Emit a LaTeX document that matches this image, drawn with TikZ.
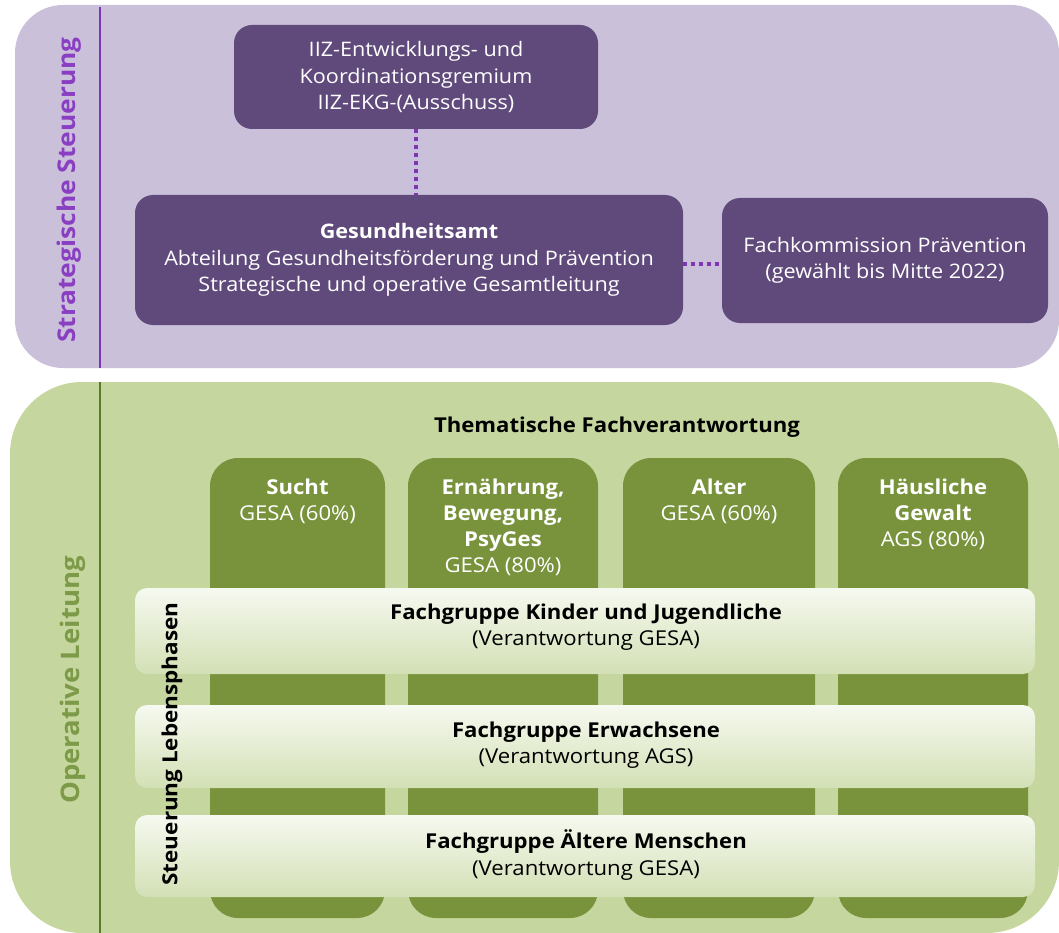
\documentclass[tikz,border=0pt]{standalone}
\usepackage{fontspec}
\setmainfont{Open Sans}[FakeStretch=1.08]
\definecolor{ppanel}{HTML}{CBC0DA}
\definecolor{pbox}{HTML}{5F4A7B}
\definecolor{pline}{HTML}{7B35B5}
\definecolor{plabel}{HTML}{8A3FC2}
\definecolor{gpanel}{HTML}{C5D69F}
\definecolor{gcol}{HTML}{78933B}
\definecolor{gline}{HTML}{5C7A2E}
\definecolor{glabel}{HTML}{7C9A48}
\definecolor{bartop}{HTML}{F6F9F0}
\definecolor{barbot}{HTML}{D3E0B5}
\tikzset{
  pboxst/.style={fill=pbox, rounded corners=18pt, text=white, align=center,
    font=\fontsize{20}{26.5}\selectfont, inner sep=0pt},
  colst/.style={fill=gcol, rounded corners=28pt},
  coltext/.style={text=white, align=center, anchor=north,
    font=\fontsize{20.5}{26}\selectfont, inner sep=0pt},
  barst/.style={top color=bartop, bottom color=barbot, rounded corners=12pt, draw=none},
  bartext/.style={align=center, font=\fontsize{20.5}{26.5}\selectfont, inner sep=0pt},
  dotline/.style={pline, line width=3.4pt, dash pattern=on 3.4pt off 4.6pt},
}
\begin{document}
\begin{tikzpicture}[x=1pt,y=-1pt]
\useasboundingbox (0,0) rectangle (1059,933);
% purple panel
\fill[ppanel, rounded corners=48pt] (15,5) rectangle (1059,368);
\draw[pline, line width=1.3pt] (100,7) coordinate (sl1) -- (100,368) coordinate (sl2);
\node[rotate=90, text=plabel, font=\fontsize{24.4}{28}\selectfont\bfseries, inner sep=0pt] (strat) at (69,190) {Strategische Steuerung};
% purple boxes
\node[pboxst, minimum width=364pt, minimum height=104pt] (iiz) at (416,77)
  {IIZ-Entwicklungs- und\\Koordinationsgremium\\IIZ-EKG-(Ausschuss)};
\node[pboxst, minimum width=548pt, minimum height=130pt] (ga) at (409,260)
  {\textbf{Gesundheitsamt}\\Abteilung Gesundheitsförderung und Prävention\\Strategische und operative Gesamtleitung};
\node[pboxst, minimum width=326pt, minimum height=125pt] (fk) at (885,260.5)
  {Fachkommission Prävention\\(gewählt bis Mitte 2022)};
\draw[dotline] (iiz.south) -- (iiz.south |- ga.north);
\draw[dotline] (ga.east |- 0,264) -- (fk.west |- 0,264);
% green panel
\fill[gpanel, rounded corners=72pt] (10,382) rectangle (1059,933);
\draw[gline, line width=1.3pt] (100,382) coordinate (gl1) -- (100,933) coordinate (gl2);
\node[rotate=90, text=glabel, font=\fontsize{25.5}{28}\selectfont\bfseries, inner sep=0pt] (oper) at (73,680) {Operative Leitung};
\node[font=\fontsize{20.5}{24}\selectfont\bfseries, inner sep=0pt] (them) at (617,427) {Thematische Fachverantwortung};
% columns
\path[colst] (210,458) rectangle (385,918) coordinate (c1);
\path[colst] (408,458) rectangle (598,918) coordinate (c2);
\path[colst] (623,458) rectangle (815,918) coordinate (c3);
\path[colst] (838,458) rectangle (1028,918) coordinate (c4);
\node[coltext] (t1) at (297.5,479) {\textbf{Sucht}\\GESA (60\%)};
\node[coltext] (t2) at (503,479) {\textbf{Ernährung,}\\\textbf{Bewegung,}\\\textbf{PsyGes}\\GESA (80\%)};
\node[coltext] (t3) at (719,479) {\textbf{Alter}\\GESA (60\%)};
\node[coltext] (t4) at (933,479) {\textbf{Häusliche}\\\textbf{Gewalt}\\AGS (80\%)};
% bars
\shade[barst] (135,588) rectangle (1035,674);
\shade[barst] (135,705) rectangle (1035,788);
\shade[barst] (135,815) rectangle (1035,897);
\node[bartext] (b1) at (586,627) {\textbf{Fachgruppe Kinder und Jugendliche}\\(Verantwortung GESA)};
\node[bartext] (b2) at (586,745) {\textbf{Fachgruppe Erwachsene}\\(Verantwortung AGS)};
\node[bartext] (b3) at (586,855) {\textbf{Fachgruppe Ältere Menschen}\\(Verantwortung GESA)};
\node[rotate=90, font=\fontsize{20.8}{24}\selectfont\bfseries, inner sep=0pt] (steu) at (172,744) {Steuerung Lebensphasen};
\end{tikzpicture}
\end{document}
